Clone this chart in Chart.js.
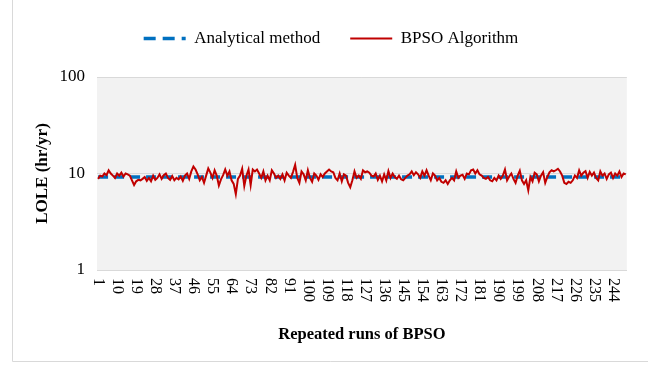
<!DOCTYPE html>
<html>
<head>
<meta charset="utf-8">
<title>LOLE - repeated runs of BPSO</title>
<script src="https://cdn.jsdelivr.net/npm/chart.js@4.4.1/dist/chart.umd.min.js"></script>
<style>
  html, body { margin: 0; padding: 0; background: #fff; }
  #wrap { width: 648px; height: 367px; position: relative; }
</style>
</head>
<body>
<div id="wrap"><canvas id="loleChart"></canvas></div>
<script>
// LOLE (hr/yr) from each BPSO run, read run by run
const bpsoLOLE = [
    8.8, 9.5, 9.3, 10, 9.6, 10.8, 10, 9.5, 9, 10,
    9.5, 10.2, 9.3, 10, 9.8, 9.5, 8.5, 7.6, 8.3, 8.6,
    8.5, 8.8, 9.2, 8.4, 9, 8.3, 9.5, 8.6, 9, 9.8,
    8.8, 9.6, 10, 9, 8.6, 9.4,
    8.5, 9, 8.7, 9.3, 8.4, 9.5, 10, 8.8, 10.5, 11.8,
    11, 9.8, 8.5, 9.2, 8, 9.5, 11.3, 10.2, 9, 10.8,
    9.5, 7.5, 8.7, 9.6, 11, 9.5, 10.5, 8.5, 7.8, 6.1,
    8.8, 9.5, 11.2, 7.4, 9.5, 11,
    7.6, 11, 10.5, 11, 10, 9, 10.5, 8.5, 9.5, 8.5,
    10.8, 10, 9, 9.5, 8.8, 9.8, 8.5, 10.2, 9.5, 9,
    10.4, 12.3, 9, 8, 10.5, 9.8, 8.5, 10.8, 9, 8.2,
    10, 9.5, 8.6, 9.8, 9.2,
    10, 10.5, 11, 10.5, 10.3, 9, 8.5, 10, 8.3, 9.8,
    9.5, 8, 7.2, 8.5, 10.5, 9, 9.5, 8.8, 10.8, 10.3,
    10.5, 10.2, 9.5, 9.3, 10, 8.6, 9.5, 8.3, 9.8, 8.5,
    10.6, 9, 10, 9.2, 8.8, 9.5,
    8.7, 8.5, 9, 9.5, 9.8, 10.5, 9.6, 10.3, 9.8, 9,
    10.5, 9.5, 10.8, 9.5, 8.5, 10, 9.5, 8.5, 9, 8.2,
    8, 8.5, 7.8, 8.5, 9, 8.5, 10.5, 9, 9.5, 9.7,
    8.8, 10, 9.8, 10.8, 11, 10,
    10.8, 9.8, 9.5, 9, 8.8, 9.2, 8.5, 8.3, 9, 8.5,
    9.5, 8.8, 9.5, 11, 8.5, 9.3, 10, 8.8, 8, 9.5,
    10.7, 8.5, 7.8, 8.5, 6.7, 9.2, 8.3, 10.2, 9.8, 8.3,
    9.5, 10.3, 8, 9.2, 10.3, 10.8,
    10.5, 10.8, 11.2, 10.5, 9.5, 8, 7.8, 8.2, 8, 8.5,
    9.5, 9, 10.8, 9.5, 10.2, 10.6, 9, 10.4, 9.5, 10.2,
    9, 8.5, 10.5, 9.5, 10, 8.8, 9.8, 10.2, 9, 10,
    9.5, 10.5, 9.2, 10, 9.8
];

// analytical LOLE, the same for every run
const analyticalLOLE = 9.2;

// run numbers 1..250, one per BPSO value
const runs = bpsoLOLE.map((v, i) => i + 1);
const runLabelStep = 9;
const yTicks = [1, 10, 100];

const serif = "'Liberation Serif', 'Times New Roman', serif";

// grey plot background and the outer frame lines
const backdrop = {
    id: 'backdrop',
    beforeDraw(chart) {
        const { ctx, chartArea: a } = chart;
        ctx.save();
        ctx.fillStyle = '#f2f2f2';
        ctx.fillRect(a.left, a.top, a.right - a.left, a.bottom - a.top);
        ctx.restore();
    },
    afterDraw(chart) {
        const ctx = chart.ctx;
        ctx.save();
        ctx.strokeStyle = '#d9d9d9';
        ctx.lineWidth = 1;
        ctx.beginPath();
        ctx.moveTo(12.5, 0);
        ctx.lineTo(12.5, 361.5);
        ctx.lineTo(648, 361.5);
        ctx.stroke();
        ctx.restore();
    }
};

// leave a gap under the legend so it sits higher above the plot
const legendGap = {
    id: 'legendGap',
    beforeLayout(chart) {
        const lg = chart.legend;
        if (lg && !lg._gapPatched) {
            const fit = lg.fit;
            lg.fit = function () {
                fit.call(this);
                this.height += 20;
            };
            lg._gapPatched = true;
        }
    }
};

// run labels turned clockwise, reading downwards from the axis
const runLabels = {
    id: 'runLabels',
    afterDraw(chart) {
        const { ctx, scales: { x } } = chart;
        ctx.save();
        ctx.font = '16px ' + serif;
        ctx.fillStyle = '#000';
        ctx.textAlign = 'left';
        ctx.textBaseline = 'middle';
        runs.forEach((r, i) => {
            if (i % runLabelStep !== 0) return;
            const px = x.getPixelForValue(i);
            ctx.save();
            ctx.translate(px, x.top + 8);
            ctx.rotate(Math.PI / 2);
            ctx.fillText(String(r), 0, 0);
            ctx.restore();
        });
        ctx.restore();
    }
};

new Chart(document.getElementById('loleChart'), {
    type: 'line',
    data: {
        labels: runs,
        datasets: [
            {
                label: 'Analytical method',
                data: runs.map(() => analyticalLOLE),
                borderColor: '#0070c0',
                backgroundColor: '#0070c0',
                borderWidth: 3.5,
                borderDash: [10, 6],
                pointRadius: 0,
                order: 2
            },
            {
                label: 'BPSO Algorithm',
                data: bpsoLOLE,
                borderColor: '#c00000',
                backgroundColor: '#c00000',
                borderWidth: 2,
                pointRadius: 0,
                tension: 0,
                order: 1
            }
        ]
    },
    options: {
        responsive: true,
        maintainAspectRatio: false,
        animation: false,
        layout: { padding: { left: 31, right: 17, top: 0, bottom: 21 } },
        plugins: {
            tooltip: { enabled: false },
            legend: {
                position: 'top',
                labels: {
                    font: { family: serif, size: 17 },
                    color: '#000',
                    padding: 30,
                    boxWidth: 42,
                    usePointStyle: true,
                    pointStyleWidth: 42,
                    sort: (a, b) => a.datasetIndex - b.datasetIndex,
                    generateLabels(chart) {
                        return chart.data.datasets.map((ds, i) => ({
                            text: ds.label,
                            datasetIndex: i,
                            pointStyle: 'line',
                            fillStyle: ds.borderColor,
                            strokeStyle: ds.borderColor,
                            fontColor: '#000',
                            lineWidth: ds.borderWidth,
                            lineDash: ds.borderDash ? [12, 7] : [],
                            hidden: false
                        }));
                    }
                }
            }
        },
        scales: {
            x: {
                offset: true,
                grid: { display: false, drawTicks: false },
                border: { color: '#d9d9d9' },
                ticks: {
                    autoSkip: false,
                    minRotation: 90,
                    maxRotation: 90,
                    color: 'rgba(0,0,0,0)',
                    font: { family: serif, size: 16 },
                    callback: (v, i) => (i % runLabelStep === 0 ? String(runs[i]) : '')
                },
                afterFit(scale) { scale.height = 76; },
                title: {
                    display: true,
                    text: 'Repeated runs of BPSO',
                    font: { family: serif, size: 16.5, weight: 'bold' },
                    color: '#000',
                    padding: { top: 0, bottom: 1 }
                }
            },
            y: {
                type: 'logarithmic',
                min: 1,
                max: 100,
                afterBuildTicks(scale) {
                    scale.ticks = yTicks.map(v => ({ value: v }));
                },
                afterFit(scale) { scale.width = 66; },
                grid: { color: '#d9d9d9', drawTicks: false },
                border: { display: false },
                ticks: {
                    padding: 12,
                    color: '#000',
                    font: { family: serif, size: 17 },
                    callback: v => String(v)
                },
                title: {
                    display: true,
                    text: 'LOLE (hr/yr)',
                    font: { family: serif, size: 17, weight: 'bold' },
                    color: '#000',
                    padding: { top: 1, bottom: 0 }
                }
            }
        }
    },
    plugins: [backdrop, legendGap, runLabels]
});
</script>
</body>
</html>
